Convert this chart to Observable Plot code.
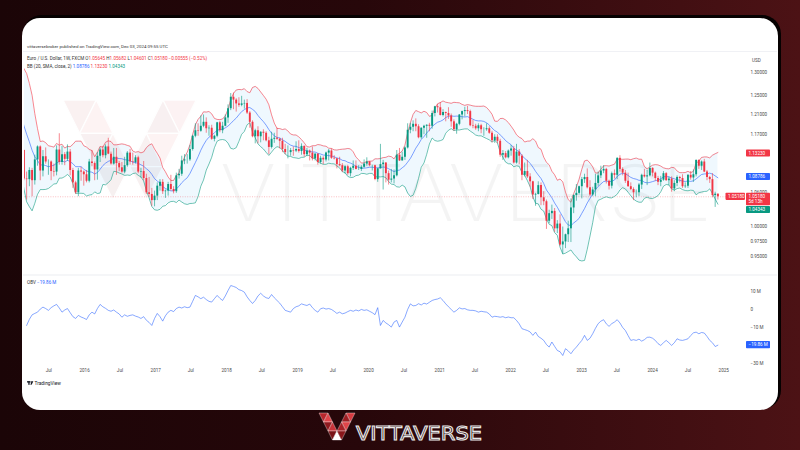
<!DOCTYPE html>
<html><head><meta charset="utf-8">
<script src="https://cdn.jsdelivr.net/npm/d3@7"></script>
<script src="https://cdn.jsdelivr.net/npm/@observablehq/plot@0.6"></script>
<style>
html,body{margin:0;padding:0;}
body{width:800px;height:450px;overflow:hidden;position:relative;font-family:Roboto,"Noto Sans",sans-serif;
 background:linear-gradient(90deg,#1b0507 0%,#27070a 45%,#4c1215 100%);}
#panel{position:absolute;left:22px;top:18px;width:756px;height:392px;background:#fff;border-radius:18px;box-shadow:2px -2px 0 1px #060101;}
.abs{position:absolute;left:0;top:0;}
#price svg > text, #obv svg > text{display:none;}
</style></head><body>
<div id="panel"></div>
<svg id="wm" class="abs" width="800" height="450"></svg>
<div id="price" class="abs"></div>
<div id="obv" class="abs"></div>
<svg id="over" class="abs" width="800" height="450"></svg>
<script>
// ---------- DATA (biweekly candles, EUR/USD, starting week of 2014-10-06) ----------
const firstOpen = 1.252;
const closes = [
1.276,1.252,1.252,1.245,1.246,1.218,1.184,1.121,1.131,1.138,
1.084,1.083,1.100,1.081,1.120,1.145,1.099,1.126,1.116,1.116,
1.098,1.097,1.139,1.115,1.130,1.121,1.135,1.100,1.077,1.059,
1.099,1.097,1.092,1.080,1.116,1.113,1.101,1.127,1.139,1.128,
1.145,1.131,1.112,1.125,1.113,1.105,1.097,1.109,1.133,1.116,
1.115,1.124,1.097,1.098,1.085,1.059,1.056,1.045,1.053,1.071,
1.078,1.061,1.062,1.074,1.065,1.061,1.090,1.093,1.118,1.120,
1.120,1.140,1.166,1.177,1.176,1.186,1.194,1.181,1.182,1.160,
1.166,1.193,1.177,1.186,1.203,1.222,1.246,1.240,1.232,1.229,
1.232,1.233,1.213,1.194,1.165,1.177,1.165,1.174,1.172,1.157,
1.144,1.160,1.162,1.160,1.156,1.140,1.134,1.134,1.138,1.137,
1.140,1.136,1.146,1.130,1.137,1.133,1.122,1.131,1.115,1.123,
1.120,1.133,1.137,1.123,1.122,1.111,1.109,1.099,1.107,1.094,
1.104,1.108,1.102,1.102,1.106,1.112,1.116,1.109,1.109,1.083,
1.103,1.111,1.114,1.094,1.082,1.084,1.090,1.129,1.118,1.125,
1.143,1.178,1.184,1.190,1.185,1.163,1.182,1.186,1.188,1.186,
1.212,1.226,1.224,1.208,1.214,1.212,1.207,1.195,1.179,1.190,
1.209,1.216,1.218,1.216,1.187,1.186,1.181,1.187,1.179,1.179,
1.181,1.172,1.157,1.164,1.156,1.129,1.132,1.124,1.137,1.141,
1.114,1.135,1.127,1.091,1.098,1.088,1.079,1.055,1.056,1.072,
1.050,1.043,1.009,1.022,1.026,0.996,1.004,0.969,0.974,0.986,
0.996,1.032,1.054,1.058,1.070,1.083,1.087,1.068,1.055,1.064,
1.076,1.090,1.099,1.102,1.080,1.071,1.094,1.091,1.123,1.102,
1.095,1.080,1.070,1.065,1.059,1.059,1.073,1.091,1.088,1.090,
1.104,1.095,1.085,1.078,1.082,1.094,1.081,1.084,1.066,1.076,
1.087,1.085,1.070,1.071,1.091,1.086,1.092,1.119,1.108,1.116,
1.097,1.087,1.083,1.054,1.0565,1.0518];
const highs = [
1.289,1.281,1.256,1.261,1.257,1.259,1.222,1.187,1.153,1.153,
1.139,1.097,1.105,1.104,1.129,1.147,1.147,1.138,1.143,1.120,
1.118,1.112,1.147,1.171,1.146,1.134,1.149,1.140,1.104,1.080,
1.104,1.106,1.099,1.100,1.121,1.138,1.116,1.134,1.143,1.146,
1.149,1.162,1.135,1.142,1.142,1.117,1.115,1.125,1.136,1.140,
1.133,1.128,1.127,1.104,1.117,1.093,1.087,1.067,1.062,1.077,
1.083,1.083,1.064,1.078,1.091,1.070,1.095,1.102,1.127,1.130,
1.130,1.148,1.168,1.191,1.191,1.207,1.209,1.203,1.187,1.188,
1.168,1.194,1.196,1.194,1.209,1.230,1.254,1.255,1.243,1.245,
1.248,1.240,1.241,1.216,1.197,1.180,1.185,1.175,1.179,1.175,
1.164,1.174,1.172,1.182,1.162,1.162,1.150,1.147,1.142,1.145,
1.155,1.157,1.151,1.147,1.142,1.139,1.145,1.132,1.132,1.127,
1.126,1.135,1.140,1.141,1.128,1.123,1.125,1.113,1.109,1.110,
1.106,1.118,1.118,1.109,1.109,1.120,1.124,1.117,1.110,1.110,
1.104,1.150,1.119,1.115,1.099,1.102,1.101,1.138,1.142,1.135,
1.145,1.191,1.192,1.197,1.201,1.189,1.183,1.188,1.189,1.192,
1.217,1.227,1.231,1.235,1.220,1.215,1.224,1.211,1.199,1.192,
1.210,1.217,1.225,1.227,1.219,1.198,1.190,1.191,1.190,1.183,
1.191,1.185,1.176,1.169,1.169,1.160,1.138,1.136,1.139,1.148,
1.146,1.150,1.140,1.130,1.114,1.119,1.094,1.080,1.058,1.079,
1.077,1.061,1.046,1.028,1.037,1.031,1.010,1.020,0.999,0.987,
1.009,1.048,1.055,1.074,1.071,1.087,1.093,1.103,1.081,1.069,
1.093,1.097,1.108,1.109,1.104,1.082,1.097,1.101,1.124,1.128,
1.105,1.100,1.095,1.077,1.068,1.064,1.076,1.093,1.102,1.100,
1.114,1.105,1.097,1.089,1.089,1.098,1.096,1.088,1.088,1.081,
1.090,1.089,1.092,1.077,1.092,1.098,1.101,1.120,1.120,1.118,
1.121,1.100,1.089,1.094,1.060,1.0568];
const lows = [
1.250,1.249,1.236,1.238,1.229,1.217,1.176,1.115,1.110,1.127,
1.081,1.046,1.070,1.052,1.073,1.108,1.081,1.088,1.112,1.091,
1.081,1.088,1.090,1.110,1.110,1.109,1.117,1.090,1.067,1.056,
1.052,1.080,1.071,1.077,1.077,1.107,1.081,1.082,1.115,1.124,
1.122,1.130,1.110,1.110,1.091,1.098,1.095,1.094,1.106,1.110,
1.110,1.112,1.094,1.086,1.081,1.056,1.051,1.035,1.034,1.045,
1.062,1.056,1.049,1.053,1.062,1.057,1.058,1.084,1.089,1.111,
1.112,1.117,1.137,1.163,1.166,1.174,1.183,1.172,1.166,1.158,
1.155,1.163,1.173,1.171,1.185,1.192,1.218,1.220,1.215,1.225,
1.226,1.221,1.210,1.182,1.163,1.151,1.151,1.153,1.157,1.155,
1.130,1.141,1.152,1.158,1.141,1.134,1.130,1.122,1.127,1.127,
1.134,1.133,1.129,1.125,1.126,1.118,1.118,1.118,1.110,1.112,
1.111,1.116,1.118,1.121,1.120,1.103,1.107,1.096,1.093,1.091,
1.088,1.100,1.101,1.100,1.098,1.104,1.108,1.107,1.099,1.081,
1.078,1.103,1.064,1.077,1.073,1.077,1.075,1.088,1.117,1.118,
1.119,1.141,1.171,1.175,1.175,1.161,1.160,1.169,1.162,1.175,
1.180,1.205,1.213,1.207,1.205,1.195,1.200,1.184,1.176,1.170,
1.187,1.199,1.205,1.210,1.185,1.181,1.178,1.175,1.171,1.166,
1.176,1.170,1.153,1.152,1.151,1.125,1.119,1.122,1.122,1.127,
1.112,1.112,1.111,1.081,1.088,1.085,1.069,1.047,1.035,1.055,
1.036,1.036,0.995,1.005,1.012,0.990,0.988,0.967,0.954,0.963,
0.973,0.973,1.022,1.044,1.055,1.048,1.076,1.066,1.052,1.052,
1.052,1.071,1.085,1.094,1.075,1.064,1.066,1.084,1.083,1.097,
1.090,1.076,1.069,1.063,1.045,1.050,1.052,1.065,1.086,1.072,
1.088,1.088,1.080,1.072,1.070,1.080,1.080,1.072,1.060,1.061,
1.070,1.077,1.067,1.067,1.067,1.082,1.078,1.088,1.102,1.100,
1.096,1.081,1.076,1.050,1.033,1.0460];
// On-balance volume, millions
const obvM = [
null,null,null,null,null,null,null,null,null,null,
null,-8.9,-5.5,-3.0,-2.2,-1.5,0.2,1.3,0.5,-0.5,
1.0,2.0,2.8,0.8,-1.5,-0.3,0.5,-1.8,-4.0,-5.0,
-3.3,-4.2,-4.8,-5.6,-3.0,-1.5,-2.5,0.5,2.8,1.5,
0.6,-0.5,-1.0,-0.3,-1.5,-2.5,-4.3,-3.0,-3.8,-3.3,
-3.0,-3.7,-4.2,-5.0,-4.0,-6.0,-7.2,-8.9,-5.0,-2.2,
-4.0,-6.5,-3.5,-1.5,-0.5,-1.2,0.5,1.3,0.8,1.5,
1.0,1.3,4.5,7.8,7.0,6.0,6.8,5.5,4.5,4.1,
6.0,7.8,6.2,5.0,7.5,10.5,13.3,12.8,12.2,11.0,
10.5,9.6,7.0,5.0,3.3,5.0,7.5,9.0,7.5,6.5,
6.1,8.3,6.5,5.0,3.5,1.5,-0.5,-1.0,-1.5,0.5,
1.5,2.0,3.1,2.6,2.2,3.0,1.0,-0.5,-1.5,0.4,
0.8,0.2,0.5,0.0,-1.0,-2.2,-1.5,-2.4,-2.0,-1.2,
-0.5,-1.0,-0.3,-0.8,0.0,-0.5,-0.2,-1.0,-1.8,-2.9,
1.0,-8.9,-6.1,-7.5,-8.5,-9.8,-7.0,-6.1,-9.8,-7.0,
-4.3,0.0,3.1,2.0,2.2,3.2,2.5,3.5,3.0,4.0,
5.0,5.5,5.8,6.5,5.0,3.1,1.5,0.0,-1.5,-0.5,
0.9,0.3,0.5,-0.2,-0.5,-0.5,-0.8,-1.5,-1.0,-1.3,
-1.5,-2.5,-4.3,-3.8,-4.0,-4.3,-4.0,-4.6,-4.2,-4.6,
-4.6,-6.1,-8.0,-10.7,-11.2,-11.7,-12.5,-14.4,-12.6,-15.0,
-16.0,-17.2,-19.5,-20.9,-18.1,-20.5,-22.8,-23.5,-25.6,-21.8,
-23.0,-24.6,-22.5,-20.9,-19.0,-17.2,-14.4,-17.2,-16.0,-13.5,
-10.5,-7.9,-6.5,-5.7,-8.0,-9.4,-7.9,-7.0,-5.7,-7.5,
-10.0,-11.7,-14.5,-17.2,-16.8,-17.2,-16.5,-17.6,-16.8,-15.5,
-15.4,-16.0,-17.2,-19.0,-20.0,-18.5,-17.2,-18.5,-20.0,-18.5,
-16.3,-17.0,-17.2,-16.8,-16.3,-14.5,-13.0,-12.6,-13.5,-12.8,
-13.1,-15.0,-17.2,-18.5,-20.6,-19.86];
// axis labels that stay visible (1.13, 1.09 and −20 M sit under the value badges)
const priceTicks = [1.30, 1.25, 1.21, 1.17, 1.06, 1.00, 0.975, 0.95, 0.93];
const obvTicks = [10, 0, -10, -30];
const xTickDates = ["2015-07-01","2016-01-01","2016-07-01","2017-01-01","2017-07-01","2018-01-01","2018-07-01","2019-01-01","2019-07-01","2020-01-01","2020-07-01","2021-01-01","2021-07-01","2022-01-01","2022-07-01","2023-01-01","2023-07-01","2024-01-01","2024-07-01","2025-01-01"];
const headerLine = "vittaversebroker published on TradingView.com, Dec 03, 2024 09:55 UTC";
const symbolName = "Euro / U.S. Dollar, 1W, FXCM";
const ohlc = [["O","1.05645"],["H","1.05682"],["L","1.04601"],["C","1.05180"]];
const change = "−0.00555 (−0.52%)";
const bbName = "BB (20, SMA, close, 2)";
const bbValues = {basis: 1.08786, upper: 1.13230, lower: 1.04343};
const lastPrice = 1.05180;
const countdown = "5d 13h";
const obvLast = -19.86;

// ---------- build ----------
const RED = "#f23645", GREEN = "#089981", BLUE = "#2962ff";
const t0 = Date.UTC(2014, 9, 6);
const candles = closes.map((c, i) => ({
  date: new Date(t0 + i * 14 * 864e5),
  open: i ? closes[i - 1] : firstOpen, close: c, high: highs[i], low: lows[i], obv: obvM[i]
}));
candles.forEach(d => d.col = d.close >= d.open ? GREEN : RED);
const N = 10, K = 2; // biweekly equivalent of BB(20) on weekly candles
const bb = [];
for (let i = N - 1; i < closes.length; i++) {
  const w = closes.slice(i - N + 1, i + 1);
  const m = d3.mean(w), sd = Math.sqrt(d3.mean(w, v => (v - m) ** 2));
  bb.push({date: candles[i].date, mid: m, up: m + K * sd, lo: m - K * sd});
}
const xDomain = [new Date(Date.UTC(2015, 1, 26)), new Date(Date.UTC(2025, 3, 23))];
const FONT = "Roboto, 'Noto Sans', sans-serif";
const AX = "#4a4a4a";

const price = Plot.plot({
  width: 800, height: 280, marginTop: 62, marginBottom: 8, marginLeft: 24, marginRight: 55,
  style: {background: "transparent", fontFamily: FONT},
  x: {type: "utc", domain: xDomain, axis: null},
  y: {type: "log", domain: [0.9246, 1.322], axis: null},
  color: {type: "identity"},
  marks: [
    Plot.areaY(bb, {x: "date", y1: "lo", y2: "up", fill: "#2196f3", fillOpacity: 0.07, clip: true}),
    Plot.ruleY([lastPrice], {stroke: RED, strokeOpacity: 0.55, strokeWidth: 0.6, strokeDasharray: "1,1.4"}),
    Plot.lineY(bb, {x: "date", y: "up", stroke: RED, strokeWidth: 0.6, clip: true}),
    Plot.lineY(bb, {x: "date", y: "mid", stroke: BLUE, strokeWidth: 0.6, clip: true}),
    Plot.lineY(bb, {x: "date", y: "lo", stroke: GREEN, strokeWidth: 0.6, clip: true}),
    Plot.ruleX(candles, {x: "date", y1: "low", y2: "high", stroke: "col", strokeWidth: 0.6, clip: true}),
    Plot.ruleX(candles, {x: "date", y1: "open", y2: "close", stroke: "col", strokeWidth: 1.9, clip: true}),
    Plot.axisY(priceTicks, {anchor: "right", label: null, tickSize: 0, tickPadding: 5, tickFormat: d3.format(".5f"), fontSize: 4.6, fill: AX})
  ]
});
document.getElementById("price").appendChild(price);

const obvPlot = Plot.plot({
  width: 800, height: 375, marginTop: 278, marginBottom: 9, marginLeft: 24, marginRight: 55,
  style: {background: "transparent", fontFamily: FONT},
  x: {type: "utc", domain: xDomain, axis: null},
  y: {domain: [-31.7, 17.2], axis: null},
  marks: [
    Plot.lineY(candles.filter(d => d.obv != null), {x: "date", y: "obv", stroke: BLUE, strokeOpacity: 0.8, strokeWidth: 0.7, clip: true}),
    Plot.axisX(xTickDates.map(s => new Date(s + "T00:00Z")), {anchor: "bottom", label: null, tickSize: 0, tickPadding: 2.5, fontSize: 4.6, fill: AX,
      tickFormat: d => d.getUTCMonth() === 6 ? "Jul" : String(d.getUTCFullYear())}),
    Plot.axisY(obvTicks, {anchor: "right", label: null, tickSize: 0, tickPadding: 5, fontSize: 4.6, fill: AX,
      tickFormat: v => v === 0 ? "0" : (v < 0 ? "−" : "") + Math.abs(v) + " M"})
  ]
});
document.getElementById("obv").appendChild(obvPlot);

// ---------- overlay: header, badges, logos ----------
const ov = d3.select("#over").style("font-family", FONT);
const py = v => price.scale("y").apply(v);
const oy = v => obvPlot.scale("y").apply(v);

ov.append("line").attr("x1", 23).attr("x2", 777).attr("y1", 51.5).attr("y2", 51.5).attr("stroke", "#e6e8ee").attr("stroke-width", 0.6);
ov.append("line").attr("x1", 23).attr("x2", 777).attr("y1", 275).attr("y2", 275).attr("stroke", "#e6e8ee").attr("stroke-width", 0.8);

ov.append("text").attr("x", 27).attr("y", 47.5).attr("font-size", 4.4).attr("fill", "#333").text(headerLine);
const l2 = ov.append("text").attr("x", 27).attr("y", 60).attr("font-size", 4.6).attr("fill", "#333");
l2.append("tspan").text(symbolName);
ohlc.forEach(([k, v]) => { l2.append("tspan").text(" " + k); l2.append("tspan").attr("fill", RED).text(v); });
l2.append("tspan").attr("fill", RED).text(" " + change);
const l3 = ov.append("text").attr("x", 27).attr("y", 67.5).attr("font-size", 4.6).attr("fill", "#333");
l3.append("tspan").text(bbName);
l3.append("tspan").attr("fill", BLUE).text(" " + bbValues.basis.toFixed(5));
l3.append("tspan").attr("fill", RED).text(" " + bbValues.upper.toFixed(5));
l3.append("tspan").attr("fill", GREEN).text(" " + bbValues.lower.toFixed(5));

ov.append("text").attr("x", 752).attr("y", 62).attr("font-size", 4.6).attr("fill", AX).text("USD");

function badge(x, yc, w, h, fill, lines) {
  const g = ov.append("g");
  g.append("rect").attr("x", x).attr("y", yc - 3.6).attr("width", w).attr("height", h).attr("rx", 0.8).attr("fill", fill);
  lines.forEach((t, i) => g.append("text").attr("x", x + 2.5).attr("y", yc + 1.6 + i * 5.6).attr("font-size", 4.6).attr("fill", "#fff").text(t));
}
badge(746, py(bbValues.upper), 24, 7.2, RED, [bbValues.upper.toFixed(5)]);
badge(746, py(bbValues.basis), 24, 7.2, BLUE, [bbValues.basis.toFixed(5)]);
const ly = py(lastPrice);
badge(746, ly, 24, 12.6, RED, [lastPrice.toFixed(5), countdown]);
badge(746, Math.max(py(bbValues.lower), ly + 13.2), 24, 7.2, GREEN, [bbValues.lower.toFixed(5)]);
badge(725.5, ly, 19.5, 7.2, RED, [lastPrice.toFixed(5)]);
badge(746, oy(obvLast), 24, 7.2, BLUE, ["−" + Math.abs(obvLast).toFixed(2) + " M"]);

const ol = ov.append("text").attr("x", 27).attr("y", 284).attr("font-size", 4.6).attr("fill", "#333");
ol.append("tspan").text("OBV");
ol.append("tspan").attr("fill", BLUE).text(" −" + Math.abs(obvLast).toFixed(2) + " M");

// TradingView mark
const tv = ov.append("g").attr("fill", "#131722");
tv.append("rect").attr("x", 27).attr("y", 381.2).attr("width", 3.2).attr("height", 1.3);
tv.append("rect").attr("x", 28.3).attr("y", 381.2).attr("width", 1.3).attr("height", 3.6);
tv.append("circle").attr("cx", 31.1).attr("cy", 381.9).attr("r", 0.7);
tv.append("path").attr("d", "M31.6 381.2 L33.4 381.2 L31.6 384.8 L30.4 384.8 Z");
ov.append("text").attr("x", 34.5).attr("y", 384.8).attr("font-size", 4.8).attr("fill", "#131722").text("TradingView");

// V logo (triangle mosaic)
const tris = [
  [[0,0],[9,0],[4.5,9],"#b8262c"], [[9,0],[4.5,9],[13.5,9],"#e0454a"], [[4.5,9],[13.5,9],[9,18],"#8f1a1f"],
  [[13.5,9],[9,18],[18,18],"#c9343a"], [[9,18],[18,18],[13.5,27],"#7a1418"],
  [[36,0],[27,0],[31.5,9],"#d63a40"], [[27,0],[31.5,9],[22.5,9],"#9c1d22"], [[31.5,9],[22.5,9],[27,18],"#e0454a"],
  [[22.5,9],[27,18],[18,18],"#a82228"],
  [[13.5,27],[22.5,27],[18,18],"#ffffff"], [[18,18],[27,18],[22.5,27],"#8a171b"]
];
function vLogo(svg, tx, ty, s, op) {
  const g = svg.append("g").attr("transform", `translate(${tx},${ty}) scale(${s})`).attr("opacity", op);
  tris.forEach(t => g.append("polygon").attr("points", t.slice(0, 3).map(p => p.join(",")).join(" ")).attr("fill", t[3]).attr("stroke", "#fff").attr("stroke-width", 0.35));
  return g;
}
vLogo(ov, 319, 413, 1.0, 1);
ov.append("text").attr("x", 356).attr("y", 440).attr("font-size", 20).attr("textLength", 126).attr("lengthAdjust", "spacingAndGlyphs")
  .attr("font-family", "'DejaVu Sans', sans-serif").attr("fill", "#2a0b0d").attr("stroke", "#e8e8e8").attr("stroke-width", 1.1).text("VITTAVERSE");

// watermark
const wm = d3.select("#wm");
vLogo(wm, 63, 100, 3.7, 0.06);
wm.append("text").attr("x", 220).attr("y", 221).attr("font-size", 78).attr("textLength", 492).attr("lengthAdjust", "spacingAndGlyphs")
  .attr("font-family", "Inter, sans-serif").attr("font-weight", 200).attr("fill", "#000").attr("fill-opacity", 0.045).text("VITTAVERSE");
</script>
</body></html>
